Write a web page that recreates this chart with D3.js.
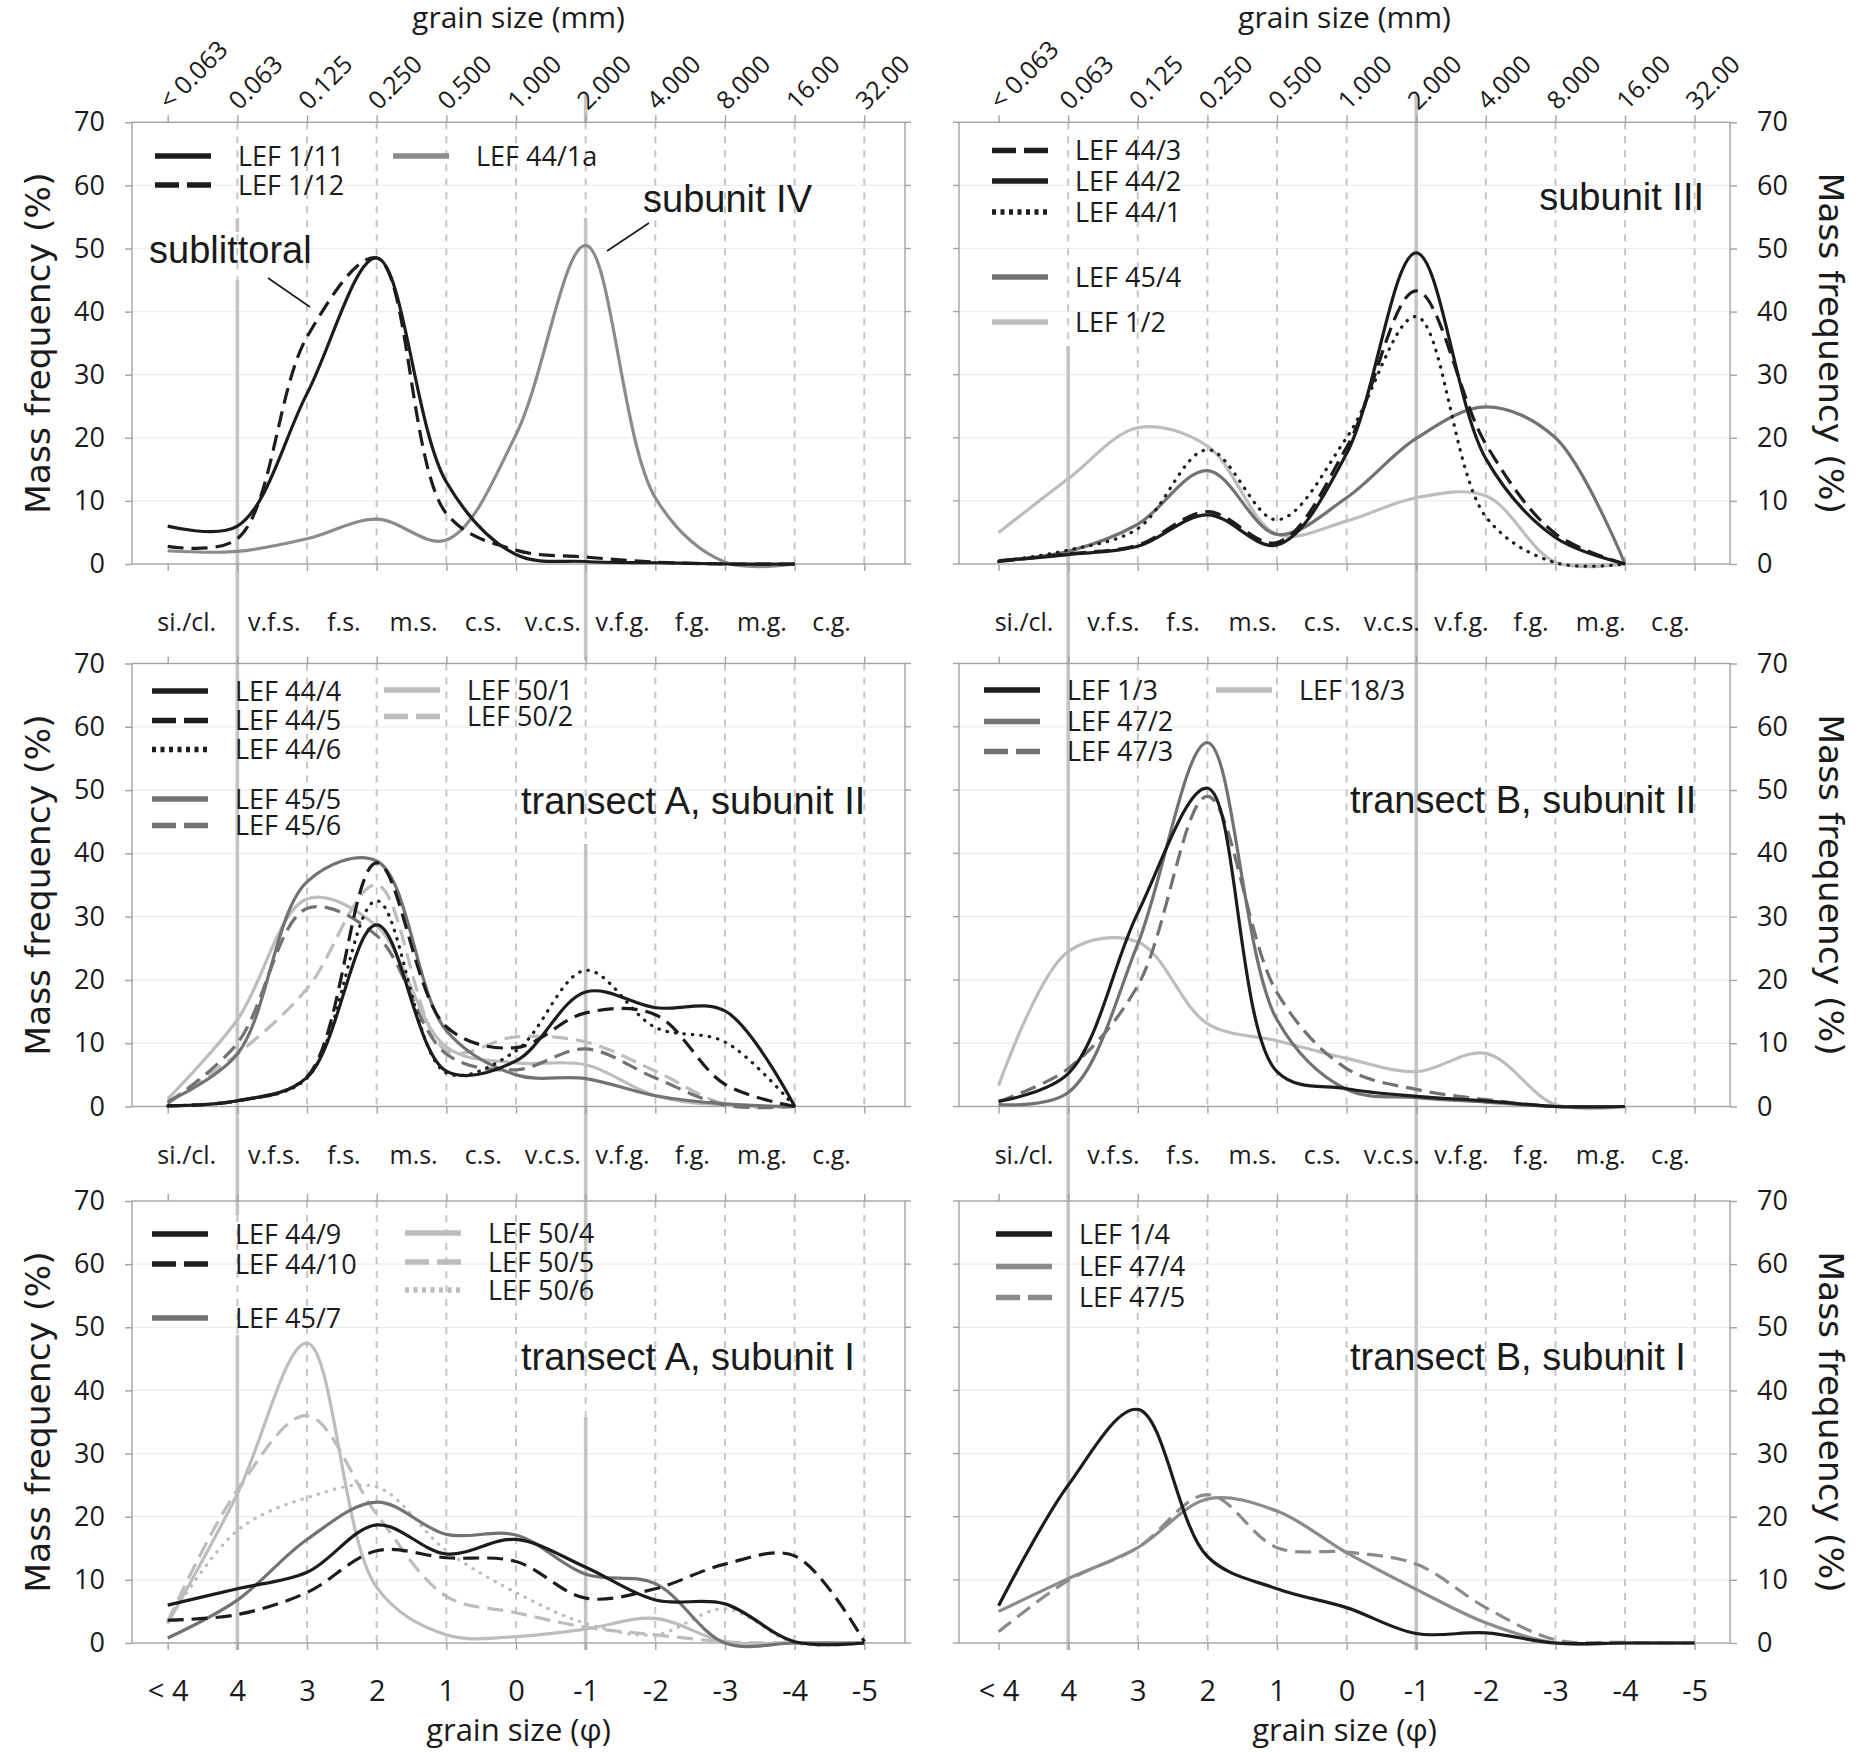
<!DOCTYPE html>
<html>
<head>
<meta charset="utf-8">
<script src="https://cdn.jsdelivr.net/npm/d3@7"></script>
<style>
  body { margin: 0; background: #fff; }
  svg { display: block; }
</style>
</head>
<body>
<div id="viz"></div>
<script>
// ---- tick labels / categories ----
const mmLabels = ["< 0.063", "0.063", "0.125", "0.250", "0.500", "1.000", "2.000", "4.000", "8.000", "16.00", "32.00"]
const phiLabels = ["< 4", "4", "3", "2", "1", "0", "-1", "-2", "-3", "-4", "-5"]
const classLabels = ["si./cl.", "v.f.s.", "f.s.", "m.s.", "c.s.", "v.c.s.", "v.f.g.", "f.g.", "m.g.", "c.g."]
const yTicks = [0, 10, 20, 30, 40, 50, 60, 70]

// ---- mass frequency (%) per grain size class ----
// subunit IV / sublittoral
const lef1_11  = [6.0, 6.0, 27, 48.5, 13, 1.5, 0.4, 0.2, 0, 0]
const lef1_12  = [2.8, 4.0, 36, 48.5, 8, 2.2, 1.1, 0.3, 0, 0]
const lef44_1a = [2.1, 2.0, 4.0, 7.1, 3.8, 20.5, 50.5, 10.5, 0.3, 0]
// subunit III
const lef44_3 = [0.4, 1.6, 3.0, 8.3, 3.4, 18.5, 43.3, 19.0, 4.8, 0]
const lef44_2 = [0.5, 1.5, 2.8, 7.8, 3.0, 17.5, 49.3, 16.7, 4.2, 0]
const lef44_1 = [0.4, 2.2, 5.6, 18.1, 7.0, 20.0, 39.2, 7.5, 0.2, 0]
const lef45_4 = [0.5, 2.0, 6.3, 14.8, 4.7, 10.5, 19.9, 24.9, 20.0, 0]
const lef1_2  = [5.0, 13.5, 21.6, 18.7, 4.7, 6.8, 10.5, 10.8, 0.3, 0]
// transect A, subunit II
const lef44_4 = [0.1, 0.9, 4.6, 28.7, 5.6, 7.2, 18.1, 15.6, 15.1, 0]
const lef44_5 = [0.1, 0.9, 4.7, 38.5, 12.6, 9.3, 14.8, 14.5, 3.5, 0]
const lef44_6 = [0.1, 0.9, 4.5, 32.5, 5.3, 8.8, 21.5, 12.5, 10.2, 0]
const lef45_5 = [0.8, 8.3, 35.5, 38.8, 12, 5.0, 4.4, 1.7, 0.4, 0]
const lef45_6 = [0.5, 10, 31.3, 27, 8.3, 5.8, 9.1, 4.5, 0.2, 0]
const lef50_1 = [1.2, 13.7, 32.8, 28.5, 9.4, 6.9, 6.6, 1.7, 0.2, 0]
const lef50_2 = [0.8, 8.3, 18.6, 35.0, 8.8, 11.0, 10.2, 5.6, 0.4, 0]
// transect B, subunit II
const lef1_3  = [0.8, 5.2, 30.6, 50.3, 5.5, 2.8, 1.6, 0.9, 0, 0]
const lef47_2 = [0.3, 2.2, 25.7, 57.5, 13.7, 2.7, 1.4, 0.7, 0, 0]
const lef47_3 = [0.8, 6.0, 19.1, 49.0, 18.0, 6.0, 2.7, 1.1, 0, 0]
const lef18_3 = [3.3, 24.5, 26.0, 13.1, 10.4, 7.6, 5.5, 8.4, 0.3, 0]
// transect A, subunit I
const lef44_9  = [6.0, 8.6, 11.2, 18.7, 14.1, 16.4, 12.0, 6.8, 6.2, 0.2, 0]
const lef44_10 = [3.6, 4.5, 8.0, 14.6, 13.5, 12.9, 7.1, 8.6, 12.5, 13.8, 0.2]
const lef45_7  = [0.8, 6.8, 16.4, 22.3, 17.2, 17.1, 10.9, 9.4, 0, 0, 0]
const lef50_4  = [3.1, 23.6, 47.5, 8.8, 1.3, 1.0, 2.2, 3.9, 0.2, 0, 0]
const lef50_5  = [3.4, 24.2, 36.0, 20.4, 7.4, 4.8, 2.5, 1.3, 0.2, 0, 0]
const lef50_6  = [3.4, 17.8, 23.0, 24.7, 14.6, 8.0, 3.1, 1.3, 5.4, 0, 0]
// transect B, subunit I
const lef1_4  = [5.9, 25, 37, 13.7, 8.6, 5.6, 1.5, 1.6, 0, 0, 0]
const lef47_4 = [5.0, 10.2, 15.1, 22.8, 20.9, 14.3, 8.5, 3.2, 0, 0, 0]
const lef47_5 = [1.8, 9.9, 15.1, 23.5, 15.1, 14.4, 12.5, 5.6, 0.5, 0.1, 0]

const ink = {black: "#1c1c1c", dark: "#727272", mid: "#8b8b8b", light: "#bdbdbd"}
const dashes = {solid: null, dash: "16,8", dot: "0.5,8"}
const legendDashes = {solid: null, dash: "24,8", dot: "4,4.5"}

const panels = [
  {col: 0, row: 0,
   series: [["LEF 1/11", lef1_11, "black", "solid"], ["LEF 1/12", lef1_12, "black", "dash"], ["LEF 44/1a", lef44_1a, "mid", "solid"]],
   legend: [[155, 156], [155, 185], [393, 156]],
   notes: [{t: "sublittoral", x: 149, y: 263, a: "start", lead: [268, 278, 310, 307]},
           {t: "subunit IV", x: 643, y: 212, a: "start", lead: [649, 223, 607, 251]}]},
  {col: 1, row: 0,
   series: [["LEF 44/3", lef44_3, "black", "dash"], ["LEF 44/2", lef44_2, "black", "solid"], ["LEF 44/1", lef44_1, "black", "dot"],
            ["LEF 45/4", lef45_4, "dark", "solid"], ["LEF 1/2", lef1_2, "light", "solid"]],
   legend: [[992, 150.5], [992, 181], [992, 212], [992, 277], [992, 322]],
   notes: [{t: "subunit III", x: 1704, y: 210, a: "end"}]},
  {col: 0, row: 1,
   series: [["LEF 44/4", lef44_4, "black", "solid"], ["LEF 44/5", lef44_5, "black", "dash"], ["LEF 44/6", lef44_6, "black", "dot"],
            ["LEF 45/5", lef45_5, "dark", "solid"], ["LEF 45/6", lef45_6, "dark", "dash"],
            ["LEF 50/1", lef50_1, "light", "solid"], ["LEF 50/2", lef50_2, "light", "dash"]],
   legend: [[152, 691], [152, 720.5], [152, 749.5], [152, 799], [152, 825.5], [384, 690], [384, 716.5]],
   notes: [{t: "transect A, subunit II", x: 521, y: 814, a: "start"}]},
  {col: 1, row: 1,
   series: [["LEF 1/3", lef1_3, "black", "solid"], ["LEF 47/2", lef47_2, "dark", "solid"], ["LEF 47/3", lef47_3, "dark", "dash"],
            ["LEF 18/3", lef18_3, "light", "solid"]],
   legend: [[984, 690], [984, 721.5], [984, 751.5], [1216, 690]],
   notes: [{t: "transect B, subunit II", x: 1350, y: 813, a: "start"}]},
  {col: 0, row: 2,
   series: [["LEF 44/9", lef44_9, "black", "solid"], ["LEF 44/10", lef44_10, "black", "dash"], ["LEF 45/7", lef45_7, "dark", "solid"],
            ["LEF 50/4", lef50_4, "light", "solid"], ["LEF 50/5", lef50_5, "light", "dash"], ["LEF 50/6", lef50_6, "light", "dot"]],
   legend: [[152, 1234], [152, 1264], [152, 1318], [405, 1233], [405, 1262], [405, 1290]],
   notes: [{t: "transect A, subunit I", x: 521, y: 1370, a: "start"}]},
  {col: 1, row: 2,
   series: [["LEF 1/4", lef1_4, "black", "solid"], ["LEF 47/4", lef47_4, "mid", "solid"], ["LEF 47/5", lef47_5, "mid", "dash"]],
   legend: [[996, 1234], [996, 1266.5], [996, 1297.5]],
   notes: [{t: "transect B, subunit I", x: 1350, y: 1370, a: "start"}]}
]

const width = 1867
const height = 1752
const cols = [
  {frame: [132, 905], axis: [167.7, 864.3], side: "left", shift: 0.03},
  {frame: [959, 1730], axis: [998.6, 1694.6], side: "right", shift: 0.15}
]
const rows = [[122.3, 564], [663.5, 1106.5], [1201, 1643]]
const textColor = "#1a1a1a"
const frameColor = "#a3a3a3"

const svg = d3.select("#viz").append("svg").attr("width", width).attr("height", height)
  .style("font-family", "'Open Sans', sans-serif")

const xScales = cols.map(c => d3.scaleLinear().domain([0, 10]).range(c.axis))
const yScales = rows.map(r => d3.scaleLinear().domain([0, 70]).range([r[1], r[0]]))

// grid: faint horizontals, dashed verticals
panels.forEach(p => {
  const c = cols[p.col], x = xScales[p.col], y = yScales[p.row]
  const g = svg.append("g")
  g.selectAll(".hg").data(yTicks.slice(1, -1)).join("line")
    .attr("x1", c.frame[0]).attr("x2", c.frame[1])
    .attr("y1", d => y(d)).attr("y2", d => y(d))
    .attr("stroke", "#ededed").attr("stroke-width", 1.2)
  g.selectAll(".vg").data(d3.range(1, 11)).join("line")
    .attr("x1", d => x(d)).attr("x2", d => x(d))
    .attr("y1", y(70)).attr("y2", y(0))
    .attr("stroke", "#c6c6c6").attr("stroke-width", 2).attr("stroke-dasharray", "7,7")
})

// solid guide lines at 0.063 mm and 2 mm running through each column
const guideSegs = [
  {col: 0, idx: 1, ys: [[218, 232], [280, 1215], [1335, 1650]]},
  {col: 0, idx: 6, ys: [[95, 122], [218, 660], [844, 1300], [1417, 1650]]},
  {col: 1, idx: 1, ys: [[346, 1650]]},
  {col: 1, idx: 6, ys: [[95, 1650]]}
]
guideSegs.forEach(s => {
  const gx = xScales[s.col](s.idx)
  svg.append("g").selectAll("line").data(s.ys).join("line")
    .attr("x1", gx).attr("x2", gx).attr("y1", d => d[0]).attr("y2", d => d[1])
    .attr("stroke", "#c4c4c4").attr("stroke-width", 3.6)
})

// frames and axes
panels.forEach(p => {
  const c = cols[p.col], x = xScales[p.col], y = yScales[p.row]
  const g = svg.append("g")
  g.append("rect")
    .attr("x", c.frame[0]).attr("y", y(70))
    .attr("width", c.frame[1] - c.frame[0]).attr("height", y(0) - y(70))
    .attr("fill", "none").attr("stroke", frameColor).attr("stroke-width", 1.4)

  const yAxis = c.side === "left" ? d3.axisLeft(y) : d3.axisRight(y)
  const ya = g.append("g")
    .attr("transform", `translate(${c.side === "left" ? c.frame[0] : c.frame[1]},0)`)
    .call(yAxis.tickValues(yTicks).tickSize(7).tickPadding(20))
  ya.select(".domain").remove()
  ya.selectAll(".tick line").attr("stroke", frameColor).attr("stroke-width", 1.4)
  ya.selectAll(".tick text").attr("font-size", 27).attr("font-family", "'Open Sans', sans-serif").attr("fill", textColor)

  // small ticks on the opposite frame side
  const ox = c.side === "left" ? c.frame[1] : c.frame[0]
  const od = c.side === "left" ? 6 : -6
  g.selectAll(".ot").data(yTicks).join("line")
    .attr("x1", ox).attr("x2", ox + od).attr("y1", d => y(d)).attr("y2", d => y(d))
    .attr("stroke", frameColor).attr("stroke-width", 1.4)

  const xb = g.append("g").attr("transform", `translate(0,${y(0)})`)
    .call(d3.axisBottom(x).tickValues(d3.range(11)).tickSize(7).tickPadding(30)
      .tickFormat(p.row === 2 ? (i => phiLabels[i]) : ""))
  xb.select(".domain").remove()
  xb.selectAll(".tick line").attr("stroke", frameColor).attr("stroke-width", 1.4)
  xb.selectAll(".tick text").attr("font-size", 29).attr("font-family", "'Open Sans', sans-serif").attr("fill", textColor)

  const xt = g.append("g").attr("transform", `translate(0,${y(70)})`)
    .call(d3.axisTop(x).tickValues(d3.range(11)).tickSize(7).tickFormat(""))
  xt.select(".domain").remove()
  xt.selectAll(".tick line").attr("stroke", frameColor).attr("stroke-width", 1.4)

  // sediment class labels under rows 1 and 2
  if (p.row < 2) {
    const bounds = [x.invert(c.frame[0])].concat(d3.range(1, 11))
    g.selectAll(".cls").data(classLabels).join("text")
      .attr("x", (d, i) => x((bounds[i] + bounds[i + 1]) / 2 + c.shift))
      .attr("y", y(0) + (p.row === 0 ? 67 : 57))
      .attr("text-anchor", "middle").attr("font-size", 25).attr("fill", textColor)
      .text(d => d)
  }

  // rotated y title
  const cy = (y(0) + y(70)) / 2
  g.append("text")
    .attr("transform", c.side === "left" ? `translate(37.5,${cy}) rotate(-90)` : `translate(1831,${cy}) rotate(90)`)
    .attr("text-anchor", "middle").attr("dy", "0.35em")
    .attr("font-family", "'DejaVu Sans', sans-serif").attr("font-size", 34.5).attr("fill", textColor)
    .text("Mass frequency (%)")
})

// top mm axis labels and titles
cols.forEach((c, ci) => {
  const x = xScales[ci]
  const mid = (c.frame[0] + c.frame[1]) / 2
  svg.append("g").selectAll("text").data(mmLabels).join("text")
    .attr("transform", (d, i) => `translate(${x(i) + 2},111) rotate(-45)`)
    .attr("font-size", 25).attr("fill", textColor)
    .text(d => d)
  svg.append("text").attr("x", mid).attr("y", 28).attr("text-anchor", "middle")
    .attr("font-size", 30).attr("fill", textColor).text("grain size (mm)")
  svg.append("text").attr("x", mid).attr("y", 1741).attr("text-anchor", "middle")
    .attr("font-size", 31).attr("fill", textColor).text("grain size (\u03c6)")
})

// curves, legends, notes
const line = d3.line().curve(d3.curveCatmullRom.alpha(0.5))

panels.forEach(p => {
  const x = xScales[p.col], y = yScales[p.row]
  const g = svg.append("g")
  g.selectAll("path").data(p.series.slice().reverse()).join("path")
    .attr("d", s => line(s[1].map((v, i) => [x(i), y(v)])))
    .attr("fill", "none")
    .attr("stroke", s => ink[s[2]])
    .attr("stroke-width", 3.2)
    .attr("stroke-dasharray", s => dashes[s[3]])
    .attr("stroke-linecap", s => s[3] === "dot" ? "round" : "butt")
    .attr("stroke-linejoin", "round")

  const lg = g.append("g")
  p.series.forEach((s, i) => {
    const [lx, ly] = p.legend[i]
    lg.append("line")
      .attr("x1", lx).attr("x2", lx + 56).attr("y1", ly).attr("y2", ly)
      .attr("stroke", ink[s[2]]).attr("stroke-width", 5.5)
      .attr("stroke-dasharray", legendDashes[s[3]])
    lg.append("text")
      .attr("x", lx + 83).attr("y", ly).attr("dy", "0.36em")
      .attr("font-size", 27).attr("fill", textColor)
      .text(s[0])
  })

  p.notes.forEach(n => {
    g.append("text").attr("x", n.x).attr("y", n.y).attr("text-anchor", n.a)
      .attr("font-family", "'Liberation Sans', Arial, sans-serif").attr("font-size", 38)
      .attr("fill", textColor).text(n.t)
    if (n.lead) {
      g.append("line")
        .attr("x1", n.lead[0]).attr("y1", n.lead[1]).attr("x2", n.lead[2]).attr("y2", n.lead[3])
        .attr("stroke", textColor).attr("stroke-width", 1.6)
    }
  })
})
</script>
</body>
</html>
